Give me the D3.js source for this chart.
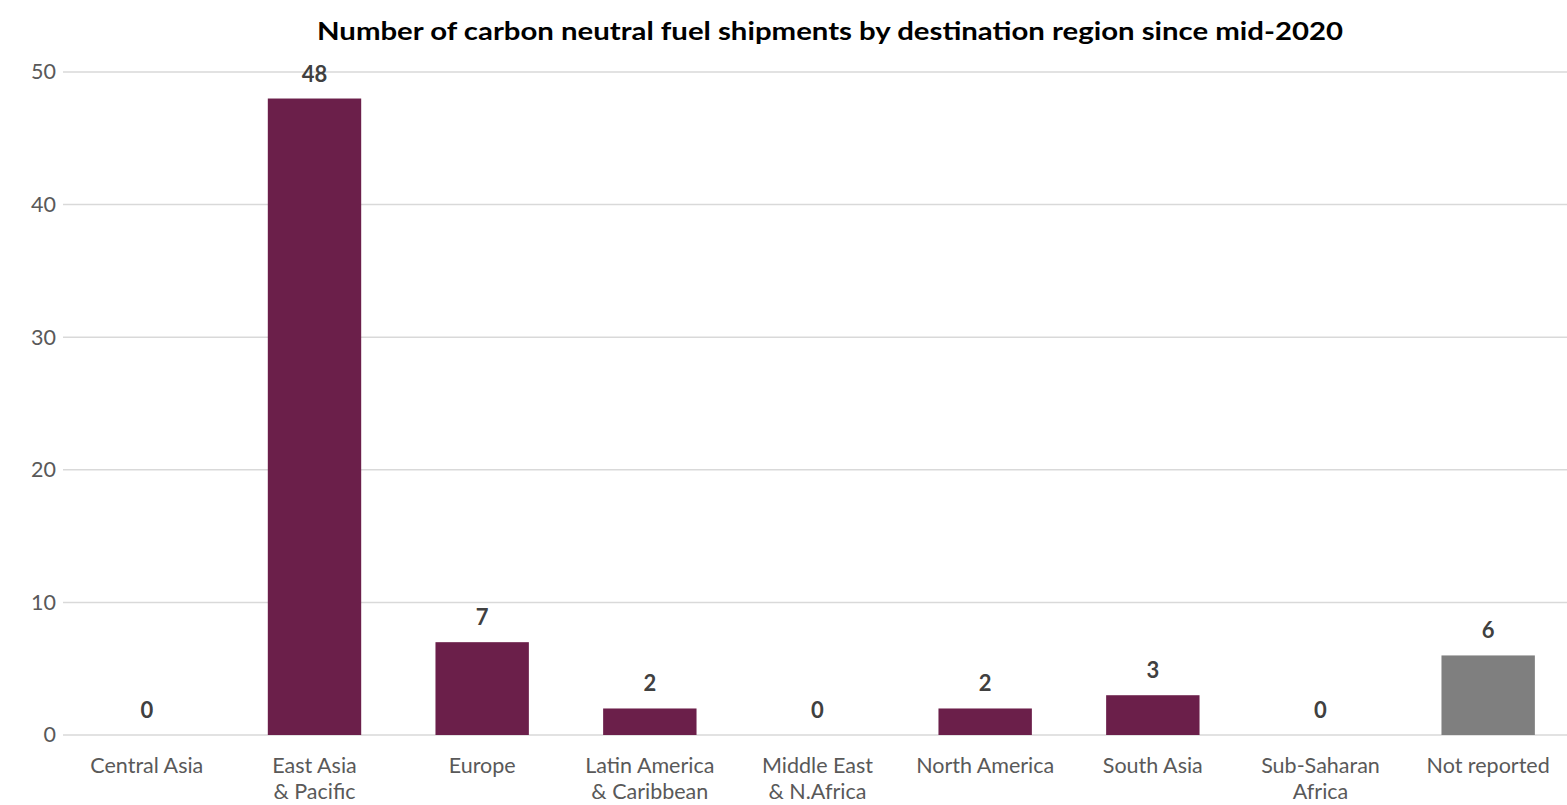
<!DOCTYPE html>
<html>
<head>
<meta charset="utf-8">
<script src="https://cdn.jsdelivr.net/npm/d3@7"></script>
<style>
  html, body { margin: 0; padding: 0; background: #fff; }
  svg { display: block; }
</style>
</head>
<body>
<svg id="chart" width="1567" height="805"></svg>
<script>
// Shipments of carbon neutral fuel by destination region
const categories = [
  ["Central Asia"],
  ["East Asia", "& Pacific"],
  ["Europe"],
  ["Latin America", "& Caribbean"],
  ["Middle East", "& N.Africa"],
  ["North America"],
  ["South Asia"],
  ["Sub-Saharan", "Africa"],
  ["Not reported"]
];
const shipments = [0, 48, 7, 2, 0, 2, 3, 0, 6];
const yTicks = [0, 10, 20, 30, 40, 50];
const titleText = "Number of carbon neutral fuel shipments by destination region since mid-2020";

const regionColor = "#6B1F4A";
const unreportedColor = "#7F7F7F";
const font = "Lato, 'Open Sans', sans-serif";

const svg = d3.select("#chart");
const W = 1567;
const plot = { left: 63, right: 1572, top: 72, bottom: 735 };

const labels = categories.map(c => c.join(" "));

const x = d3.scaleBand()
  .domain(labels)
  .range([plot.left, plot.right])
  .paddingInner(0.443)
  .paddingOuter(0.2215);

const y = d3.scaleLinear()
  .domain([0, 50])
  .range([plot.bottom, plot.top]);

// Horizontal gridlines
svg.append("g")
  .selectAll("line")
  .data(yTicks)
  .join("line")
  .attr("x1", plot.left)
  .attr("x2", W)
  .attr("y1", d => y(d))
  .attr("y2", d => y(d))
  .attr("stroke", "#D9D9D9")
  .attr("stroke-width", 1.5);

// Y axis labels
const yAxis = svg.append("g")
  .attr("transform", `translate(${plot.left},0)`)
  .call(d3.axisLeft(y).tickValues(yTicks).tickSize(0).tickPadding(7));
yAxis.select(".domain").remove();
yAxis.selectAll("text")
  .attr("font-family", font)
  .attr("font-size", 21.5)
  .attr("fill", "#595959");

// Bars
svg.append("g")
  .selectAll("rect")
  .data(shipments)
  .join("rect")
  .attr("x", (d, i) => x(labels[i]))
  .attr("width", x.bandwidth())
  .attr("y", d => y(d))
  .attr("height", d => y(0) - y(d))
  .attr("fill", (d, i) => labels[i] === "Not reported" ? unreportedColor : regionColor);

// Value labels above bars
svg.append("g")
  .selectAll("text")
  .data(shipments)
  .join("text")
  .attr("x", (d, i) => x(labels[i]) + x.bandwidth() / 2)
  .attr("y", d => y(d) - 17)
  .attr("text-anchor", "middle")
  .attr("font-family", font)
  .attr("font-size", 22)
  .attr("font-weight", "bold")
  .attr("fill", "#404040")
  .text(d => d);

// Category labels (wrapped onto two lines where needed)
const xAxis = svg.append("g");
categories.forEach((lines, i) => {
  const cx = x(labels[i]) + x.bandwidth() / 2;
  const t = xAxis.append("text")
    .attr("x", cx)
    .attr("y", 773)
    .attr("text-anchor", "middle")
    .attr("font-family", font)
    .attr("font-size", 21.5)
    .attr("fill", "#595959");
  lines.forEach((ln, j) => {
    t.append("tspan")
      .attr("x", cx)
      .attr("dy", j === 0 ? 0 : 26)
      .text(ln);
  });
});

// Title
svg.append("text")
  .attr("x", 830)
  .attr("y", 40)
  .attr("text-anchor", "middle")
  .attr("font-family", font)
  .attr("font-size", 24)
  .attr("font-weight", "bold")
  .attr("fill", "#000")
  .attr("textLength", 1026)
  .attr("lengthAdjust", "spacingAndGlyphs")
  .text(titleText);
</script>
</body>
</html>
